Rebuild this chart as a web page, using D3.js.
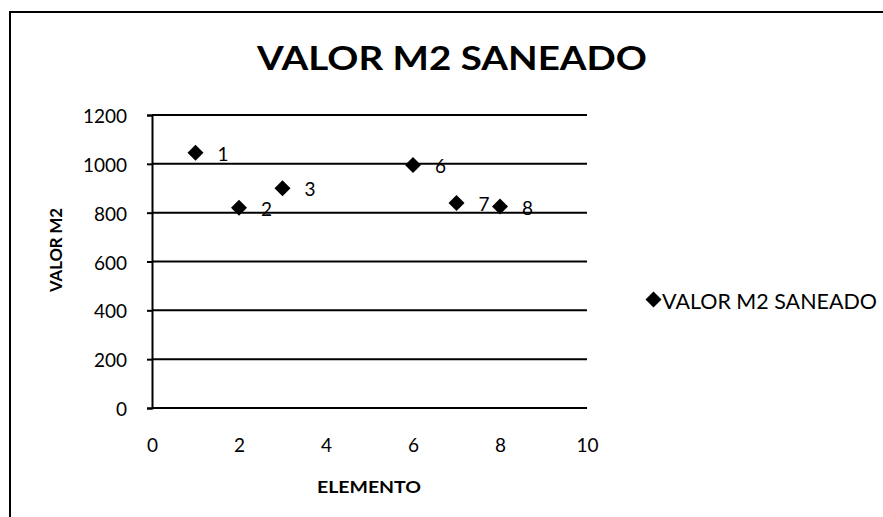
<!DOCTYPE html>
<html><head><meta charset="utf-8">
<script src="https://cdn.jsdelivr.net/npm/d3@7"></script>
<style>body{margin:0;background:#fff}</style>
</head><body><svg id="c" width="883" height="517"></svg>
<script>
const xValues = [1, 2, 3, 6, 7, 8];
const yValues = [1045, 820, 900, 995, 840, 825];
const pointLabels = ["1", "2", "3", "6", "7", "8"];
const xTicks = [0, 2, 4, 6, 8, 10];
const yTicks = [0, 200, 400, 600, 800, 1000, 1200];
const title = "VALOR M2 SANEADO";
const seriesName = "VALOR M2 SANEADO";
const xTitle = "ELEMENTO";
const yTitle = "VALOR M2";

const font = "Lato, 'Open Sans', sans-serif";
const svg = d3.select("#c");
svg.append("rect").attr("width",883).attr("height",517).attr("fill","#fff");
svg.append("path").attr("d","M10,517 V12 H883").attr("fill","none").attr("stroke","#000").attr("stroke-width",2);

const x = d3.scaleLinear().domain([0,10]).range([152,587]);
const y = d3.scaleLinear().domain([0,1200]).range([408,115]);

svg.append("text").attr("x",257).attr("y",70)
  .attr("font-family",font).attr("font-weight","bold").attr("font-size",32)
  .attr("textLength",390).attr("lengthAdjust","spacingAndGlyphs")
  .text(title);

svg.append("g").selectAll("line").data(yTicks).join("line")
  .attr("x1",x(0)).attr("x2",x(10)).attr("y1",d=>y(d)).attr("y2",d=>y(d))
  .attr("stroke","#000").attr("stroke-width",2);

const yAxis = d3.axisLeft(y).tickValues(yTicks).tickFormat(d3.format("d")).tickSize(5).tickPadding(20);
const gy = svg.append("g").attr("transform",`translate(${x(0)},0)`).call(yAxis);
gy.select(".domain").attr("stroke","#000").attr("stroke-width",2);
gy.selectAll(".tick line").attr("stroke","#000").attr("stroke-width",2);
gy.selectAll("text").attr("font-family",font).attr("font-size",19).attr("fill","#000").attr("dy","0.4em");

const xAxis = d3.axisBottom(x).tickValues(xTicks).tickFormat(d3.format("d")).tickSize(0).tickPadding(31);
const gx = svg.append("g").attr("transform",`translate(0,${y(0)})`).call(xAxis);
gx.select(".domain").remove();
gx.selectAll("text").attr("font-family",font).attr("font-size",19).attr("fill","#000");

svg.append("text").attr("x",317).attr("y",493)
  .attr("font-family",font).attr("font-weight","bold").attr("font-size",17)
  .attr("textLength",104).attr("lengthAdjust","spacingAndGlyphs").text(xTitle);
svg.append("text").attr("transform","translate(62,292) rotate(-90)")
  .attr("font-family",font).attr("font-weight","bold").attr("font-size",17)
  .attr("textLength",84).attr("lengthAdjust","spacingAndGlyphs").text(yTitle);

const sym = d3.symbol().type(d3.symbolSquare).size(128);
const data = xValues.map((v,i)=>({x:v,y:yValues[i],l:pointLabels[i]}));
svg.append("g").selectAll("path").data(data).join("path")
  .attr("d",sym).attr("transform",d=>`translate(${x(d.x)},${y(d.y)}) rotate(45)`).attr("fill","#000");
svg.append("g").selectAll("text").data(data).join("text")
  .attr("x",d=>x(d.x)+22).attr("y",d=>y(d.y)+8)
  .attr("font-family",font).attr("font-size",19).text(d=>d.l);

svg.append("path").attr("d",d3.symbol().type(d3.symbolSquare).size(128))
  .attr("transform","translate(653.5,299.5) rotate(45)").attr("fill","#000");
svg.append("text").attr("x",662).attr("y",309).attr("font-family",font).attr("font-size",21)
  .attr("textLength",215).attr("lengthAdjust","spacingAndGlyphs").text(seriesName);
</script></body></html>
